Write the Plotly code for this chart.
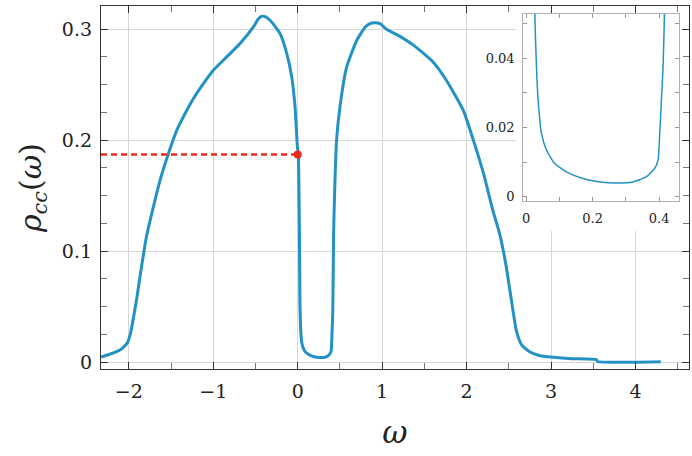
import plotly.graph_objects as go

# ---- data ----
omega = [-2.33, -2.22, -2.10, -2.02, -1.98, -1.95, -1.905, -1.86, -1.795, -1.709,
         -1.63, -1.531, -1.432, -1.334, -1.235, -1.117, -0.999, -0.84, -0.683, -0.525,
         -0.47, -0.426, -0.38, -0.328, -0.209, -0.13, -0.071, -0.032, -0.005, 0.007,
         0.02, 0.026, 0.031, 0.036, 0.046, 0.061, 0.086, 0.121, 0.171, 0.222,
         0.272, 0.322, 0.362, 0.387, 0.397, 0.402, 0.407, 0.412, 0.417, 0.425,
         0.44, 0.46, 0.50, 0.58, 0.70, 0.80, 0.855, 0.915, 0.975, 1.05,
         1.20, 1.37, 1.60, 1.76, 1.96, 2.08, 2.20, 2.31, 2.39, 2.465,
         2.53, 2.59, 2.65, 2.75, 2.87, 3.0, 3.25, 3.54, 3.55, 4.30]
rho = [0.0045, 0.0072, 0.011, 0.017, 0.026, 0.038, 0.058, 0.081, 0.1116, 0.140,
       0.164, 0.188, 0.209, 0.224, 0.2376, 0.251, 0.263, 0.275, 0.287, 0.302,
       0.309, 0.3117, 0.311, 0.308, 0.296, 0.278, 0.257, 0.230, 0.195, 0.187,
       0.116, 0.053, 0.0374, 0.0279, 0.0183, 0.0135, 0.0096, 0.0072, 0.0053, 0.0043,
       0.0040, 0.0043, 0.0058, 0.0082, 0.0106, 0.0183, 0.0279, 0.0374, 0.056, 0.116,
       0.161, 0.200, 0.230, 0.266, 0.290, 0.302, 0.305, 0.3057, 0.305, 0.300,
       0.294, 0.2856, 0.2706, 0.254, 0.227, 0.200, 0.170, 0.137, 0.116, 0.088,
       0.056, 0.028, 0.0156, 0.009, 0.0057, 0.0045, 0.003, 0.002, 0.0004, 0.0003]

marker_omega = [0.0]
marker_rho = [0.187]
xrange_main = [-2.33, 4.634]
yrange_main = [-0.0063, 0.3209]
xrange_inset = [-0.009, 0.46]
yrange_inset = [-0.0012, 0.0529]

BLUE = "#2292c5"
RED = "#ea2a1c"
FONT = "DejaVu Serif"

fig = go.Figure()
fig.add_trace(go.Scatter(x=omega, y=rho, mode="lines",
                         line=dict(color=BLUE, width=3, shape="spline", smoothing=0.5),
                         xaxis="x", yaxis="y", showlegend=False, hoverinfo="skip"))
fig.add_trace(go.Scatter(x=[xrange_main[0], marker_omega[0]], y=[marker_rho[0], marker_rho[0]],
                         mode="lines", line=dict(color=RED, width=2.5, dash="6px,4px"),
                         showlegend=False, hoverinfo="skip"))
fig.add_trace(go.Scatter(x=marker_omega, y=marker_rho, mode="markers",
                         marker=dict(color=RED, size=8), showlegend=False, hoverinfo="skip"))
fig.add_trace(go.Scatter(x=omega, y=rho, mode="lines",
                         line=dict(color=BLUE, width=1.5, shape="spline", smoothing=0.5),
                         xaxis="x2", yaxis="y2", showlegend=False, hoverinfo="skip"))

main_ax = dict(showline=True, linecolor="#333333", linewidth=1.3, mirror="allticks",
               ticks="inside", ticklen=7, tickcolor="#333333", tickwidth=1.2,
               showgrid=True, gridcolor="#d6d6d6", gridwidth=1, zeroline=False,
               automargin=False,
               tickfont=dict(family=FONT, size=19, color="#222222"))
inset_ax = dict(showline=True, linecolor="#b0b0b0", linewidth=1, mirror="allticks",
                ticks="inside", ticklen=4, tickcolor="#9a9a9a", tickwidth=1,
                showgrid=False, zeroline=False, automargin=False,
                tickfont=dict(family=FONT, size=13, color="#222222"))

fig.update_layout(
    width=692, height=456,
    margin=dict(l=101, r=3, t=6, b=87, autoexpand=False),
    paper_bgcolor="white", plot_bgcolor="white",
    font=dict(family=FONT, color="#222222"),
    xaxis=dict(main_ax, domain=[0, 1], range=xrange_main, tick0=0, dtick=1,
               minor=dict(dtick=0.5, ticks="inside", ticklen=6, tickcolor="#777777", showgrid=False),
               ticklabelstandoff=5,
               title=dict(text="<i>ω</i>", font=dict(family=FONT, size=31), standoff=20)),
    yaxis=dict(main_ax, domain=[0, 1], range=yrange_main, tick0=0, dtick=0.1,
               minor=dict(dtick=0.025, ticks="inside", ticklen=6, tickcolor="#777777", showgrid=False),
               ticklabelstandoff=4,
               title=dict(text="<i>ρ</i><sub><i>cc</i></sub>(<i>ω</i>)",
                          font=dict(family=FONT, size=30), standoff=11)),
    xaxis2=dict(inset_ax, domain=[0.718, 0.983], anchor="y2", range=xrange_inset,
                tick0=0, dtick=0.2,
                minor=dict(dtick=0.1, ticks="inside", ticklen=4, tickcolor="#9a9a9a", showgrid=False),
                ticklabelstandoff=5),
    yaxis2=dict(inset_ax, domain=[0.463, 0.979], anchor="x2", range=yrange_inset,
                tick0=0, dtick=0.02,
                minor=dict(dtick=0.01, ticks="inside", ticklen=4, tickcolor="#9a9a9a", showgrid=False),
                ticklabelstandoff=5),
    shapes=[dict(type="rect", xref="x", yref="y", x0=2.583, x1=6, y0=0.118, y1=0.5,
                 fillcolor="white", line=dict(width=0), layer="between")],
)

fig.write_html("out.html", config={"displayModeBar": False},
               post_script="document.body.style.margin='0px';")
